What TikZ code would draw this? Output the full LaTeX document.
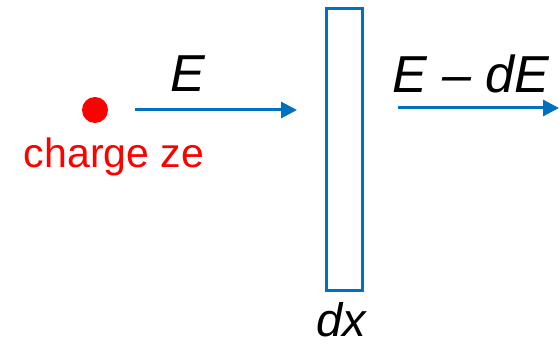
\documentclass[tikz,border=0pt]{standalone}
\usepackage{fontspec}
\setmainfont{Liberation Sans}
\usetikzlibrary{arrows.meta}
\definecolor{pblue}{HTML}{0070C0}
\definecolor{pred}{HTML}{FF0000}
\tikzset{
  flow/.style={draw=pblue, line width=3pt, -{Triangle[length=16pt,width=16pt]}},
  lbl/.style={inner sep=0pt, font=\fontsize{52}{60}\selectfont\itshape},
}
\begin{document}
\begin{tikzpicture}[x=1pt,y=-1pt]
\useasboundingbox (0,0) rectangle (560,347);
\node[draw=pblue, line width=3pt, minimum width=36pt, minimum height=282pt, inner sep=0pt] (slab) at (344.5,150) {};
\fill[pred] (95,110) circle (13) coordinate (q);
\node[inner sep=0pt, text=pred, font=\fontsize{41}{48}\selectfont, anchor=base] (qlbl) at (114,168) {charge ze};
\coordinate (a1s) at (135,110);
\coordinate (a1e) at (297,110);
\draw[flow] (a1s) -- (a1e);
\coordinate (a2s) at (398,108);
\coordinate (a2e) at (559,108);
\draw[flow] (a2s) -- (a2e);
\node[lbl, anchor=base] (E) at (188,92) {E};
\node[lbl, anchor=base] (EdE) at (471,93) {E {\normalfont\itshape\char"2013} dE};
\node[lbl, anchor=base, font=\fontsize{47}{56}\selectfont\itshape] (dx) at (341,337) {dx};
\end{tikzpicture}
\end{document}
